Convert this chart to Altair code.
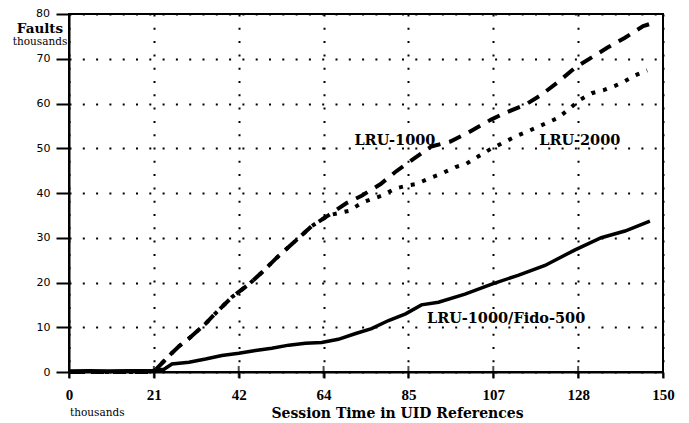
import altair as alt
import pandas as pd

# ---- axis ticks ----
x_ticks = [0, 150 / 7, 300 / 7, 450 / 7, 600 / 7, 750 / 7, 900 / 7, 150]
x_tick_labels = ["0", "21", "42", "64", "85", "107", "128", "150"]
y_ticks = [0, 10, 20, 30, 40, 50, 60, 70, 80]
y_top_label = ["80"]
y_top_value = [80]

# ---- series (x in thousands of UID references, y in thousands of faults) ----
lru1000_x = [0, 10, 21, 22.2, 25.7, 27.7, 30.3, 34.5, 37.3, 41.1, 45.4, 49, 52.4, 57.2,
             61.3, 65.5, 70, 73.9, 78.7, 82.4, 87, 91.5, 96.3, 100.8, 106.6, 110.4,
             115.2, 119.2, 123.5, 127.8, 132, 136, 140.4, 145, 147.5]
lru1000_y = [0, 0, 0, 0.8, 4, 5.7, 7.5, 10.8, 13.4, 16.7, 19.6, 22.5, 25.5, 29.3,
             32.6, 35, 37.7, 39.4, 42, 44.7, 47.6, 50.4, 51.5, 53.5, 56.4, 58,
             59.7, 61.9, 64.8, 68, 70.3, 72.5, 74.7, 77.3, 78]

lru2000_x = [0, 10, 21, 22.2, 25.7, 27.7, 30.3, 34.5, 37.3, 41.1, 45.4, 49, 52.4, 57.2,
             61.3, 65.5, 70.6, 74.4, 79, 82.4, 85.2, 87.7, 90.8, 94, 97.6, 100.3,
             103.4, 106.4, 112.7, 118, 123.5, 126.6, 129, 132, 135, 138, 140.4, 143, 146]
lru2000_y = [0, 0, 0, 0.8, 4, 5.7, 7.5, 10.8, 13.4, 16.7, 19.6, 22.5, 25.5, 29.3,
             32.6, 35, 36, 38, 39.4, 41, 41.6, 42, 43.2, 44.3, 45.8, 46.5,
             48.2, 49.8, 52.6, 54.6, 56.8, 59, 60.8, 62.3, 63, 64, 65, 66.3, 67.4]

fido_x = [0, 5, 10, 15, 21, 24, 26, 30.3, 34.5, 38.6, 42.9, 47.1, 51.2, 55.5, 59.7,
          63.8, 68, 72.4, 76.4, 80.7, 85, 89, 93.3, 100, 106.6, 113.4, 120.2, 127.8,
          134.4, 140.4, 146.7]
fido_y = [0.2, 0.3, 0.2, 0.3, 0.3, 0.6, 1.8, 2.2, 2.9, 3.7, 4.2, 4.8, 5.3, 6.0, 6.4,
          6.6, 7.3, 8.6, 9.7, 11.5, 13, 15, 15.6, 17.4, 19.6, 21.6, 23.8, 27.3,
          30, 31.5, 33.7]

# ---- annotations ----
label_text = ["LRU-1000", "LRU-2000", "LRU-1000/Fido-500"]
label_x = [82.3, 129.0, 110.4]
label_y = [51.7, 51.7, 11.9]

W, H = 594, 358
xscale = alt.Scale(domain=[0, 150], nice=False, zero=False)
yscale = alt.Scale(domain=[0, 80], nice=False)

label_expr = "[" + ",".join("'%s'" % s for s in x_tick_labels) + "][round(datum.value*7/150)]"

x_axis = alt.Axis(
    values=x_ticks, labelExpr=label_expr,
    labelFont="Liberation Serif", labelFontWeight="bold", labelFontSize=15,
    labelColor="black", labelPadding=9, labelBaseline="top", labelFlush=False,
    tickSize=6, tickColor="black", tickWidth=2,
    domainColor="black", domainWidth=2,
    grid=True, gridColor="black", gridDash=[2, 11.3], gridWidth=2, gridOpacity=1,
    title="Session Time in UID References", titleFont="DejaVu Serif",
    titleFontWeight="bold", titleFontSize=14, titleColor="black",
    titleX=328, titleY=41, titleAlign="center", titleBaseline="middle",
)
y_axis = alt.Axis(
    values=y_ticks, labelExpr="datum.value >= 80 ? '' : datum.label",
    labelFont="DejaVu Sans", labelFontSize=11, labelColor="black",
    labelPadding=6, labelFlush=False, labelOverlap=False,
    tickSize=13, tickColor="black", tickWidth=2,
    domainColor="black", domainWidth=2,
    grid=True, gridColor="black", gridDash=[2, 11.3], gridWidth=2, gridOpacity=1,
    title=None,
)

X = alt.X("x:Q", scale=xscale, axis=x_axis)
Y = alt.Y("y:Q", scale=yscale, axis=y_axis)


def series_df(xs, ys):
    return pd.DataFrame({"x": xs, "y": ys})


solid = alt.Chart(series_df(fido_x, fido_y)).mark_line(
    color="black", strokeWidth=3.5
).encode(x=X, y=Y)

dashed = alt.Chart(series_df(lru1000_x, lru1000_y)).mark_line(
    color="black", strokeWidth=4, strokeDash=[13, 9], strokeCap="butt"
).encode(x=X, y=Y)

dotted = alt.Chart(series_df(lru2000_x, lru2000_y)).mark_line(
    color="black", strokeWidth=4, strokeDash=[4, 8], strokeCap="butt"
).encode(x=X, y=Y)

xtick_marks = alt.Chart(pd.DataFrame({"x": x_ticks})).mark_tick(
    color="black", thickness=2, size=12, orient="vertical"
).encode(x=X, y=alt.value(H))

labels = alt.Chart(pd.DataFrame({"t": label_text, "x": label_x, "y": label_y})).mark_text(
    font="DejaVu Serif", fontWeight="bold", fontSize=14.5, color="black",
    align="center", baseline="middle"
).encode(x=X, y=Y, text="t:N")

top_label = alt.Chart(pd.DataFrame({"t": y_top_label, "y": y_top_value})).mark_text(
    font="DejaVu Sans", fontSize=11, color="black", align="right", baseline="middle"
).encode(x=alt.value(-19), y=Y, text="t:N")

faults_title = alt.Chart(pd.DataFrame({"t": ["Faults"]})).mark_text(
    font="DejaVu Serif", fontWeight="bold", fontSize=13.5, color="black",
    align="center", baseline="middle"
).encode(x=alt.value(-29), y=alt.value(15), text="t:N")

thousands_y = alt.Chart(pd.DataFrame({"t": ["thousands"]})).mark_text(
    font="DejaVu Serif", fontSize=10.5, color="black", align="center", baseline="middle"
).encode(x=alt.value(-29), y=alt.value(28), text="t:N")

thousands_x = alt.Chart(pd.DataFrame({"t": ["thousands"]})).mark_text(
    font="DejaVu Serif", fontSize=10.5, color="black", align="left", baseline="middle"
).encode(x=alt.value(1), y=alt.value(H + 41), text="t:N")

chart = alt.layer(
    solid, dashed, dotted, xtick_marks, labels, top_label,
    faults_title, thousands_y, thousands_x
).properties(
    width=W, height=H,
    autosize=alt.AutoSizeParams(type="none"),
    padding={"left": 61, "top": 6, "right": 18, "bottom": 49},
    background="white",
).configure_view(
    stroke="black", strokeWidth=2
)

chart.save("out.html", embed_options={"renderer": "svg", "actions": False})
